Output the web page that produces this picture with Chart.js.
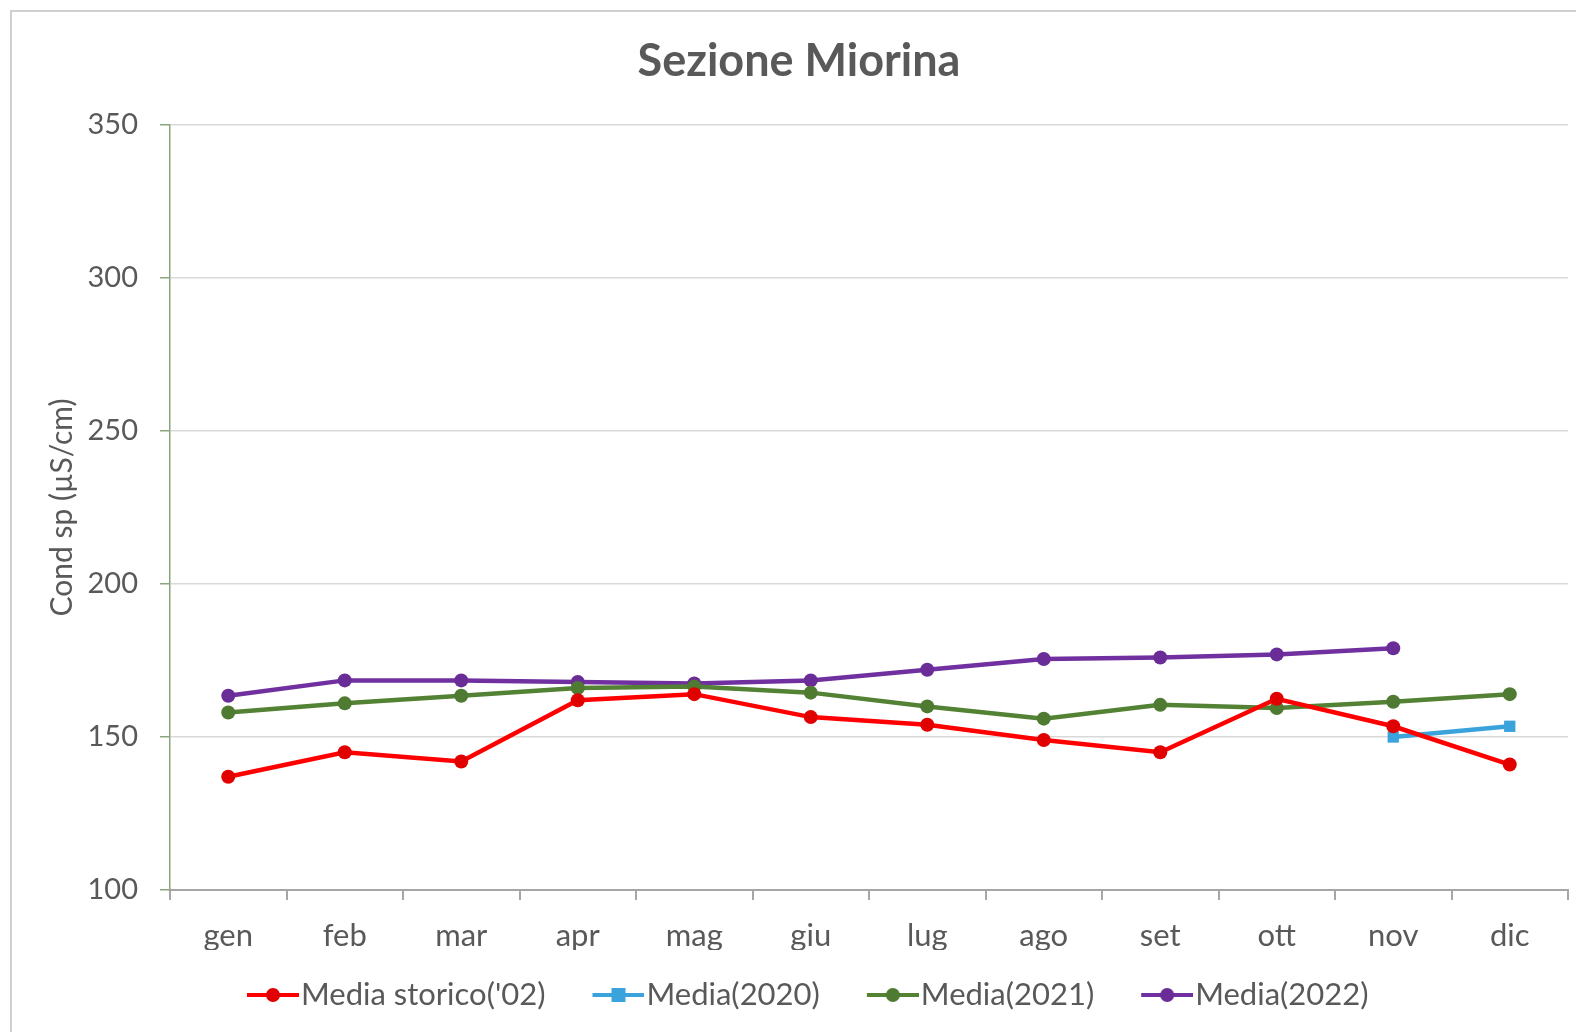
<!DOCTYPE html>
<html>
<head>
<meta charset="utf-8">
<script src="https://cdn.jsdelivr.net/npm/chart.js@4"></script>
<style>
  html, body { margin: 0; padding: 0; background: #ffffff; }
  #wrap { width: 1576px; height: 1032px; position: relative; }
</style>
</head>
<body>
<div id="wrap"><canvas id="c" width="1576" height="1032"></canvas></div>
<script>
const chartTitle = 'Sezione Miorina';
const yAxisTitle = 'Cond sp (µS/cm)';
const categories = ['gen', 'feb', 'mar', 'apr', 'mag', 'giu', 'lug', 'ago', 'set', 'ott', 'nov', 'dic'];
const seriesNames = ["Media storico('02)", 'Media(2020)', 'Media(2021)', 'Media(2022)'];
const mediaStorico = [137, 145, 142, 162, 164, 156.5, 154, 149, 145, 162.5, 153.5, 141];
const media2020 = [null, null, null, null, null, null, null, null, null, null, 150, 153.5];
const media2021 = [158, 161, 163.5, 166, 166.5, 164.5, 160, 156, 160.5, 159.5, 161.5, 164];
const media2022 = [163.5, 168.5, 168.5, 168, 167.5, 168.5, 172, 175.5, 176, 177, 179, null];
const yMin = 100, yMax = 350, yStep = 50;

const colors = ['#ff0000', '#3ba3dc', '#548235', '#7030a0'];
const pointColors = ['#e00000', '#3ba3dc', '#4f7a32', '#6a2d98'];
const markerStyles = ['circle', 'rect', 'circle', 'circle'];
const textColor = '#595959';
const FONT = 'Lato';

function legendImage(i) {
  const W = 83, H = 20;
  const cv = document.createElement('canvas');
  cv.width = W; cv.height = H;
  const g = cv.getContext('2d');
  g.strokeStyle = colors[i];
  g.lineWidth = 4;
  g.beginPath(); g.moveTo(W - 52, H / 2); g.lineTo(W, H / 2); g.stroke();
  g.fillStyle = pointColors[i];
  if (markerStyles[i] === 'rect') {
    g.fillRect(W - 26 - 7, H / 2 - 7, 14, 14);
  } else {
    g.beginPath(); g.arc(W - 26, H / 2, 7, 0, Math.PI * 2); g.fill();
  }
  return cv;
}

const bgPlugin = {
  id: 'bgBorder',
  beforeDraw(chart) {
    const ctx = chart.ctx;
    ctx.save();
    ctx.fillStyle = '#ffffff';
    ctx.fillRect(0, 0, chart.width, chart.height);
    ctx.strokeStyle = '#d0d0d0';
    ctx.lineWidth = 2;
    ctx.strokeRect(11, 11, chart.width + 20, chart.height + 20);
    ctx.restore();
  }
};

function makeDataset(i, data) {
  return {
    label: seriesNames[i],
    data: data,
    borderColor: colors[i],
    backgroundColor: pointColors[i],
    pointBackgroundColor: pointColors[i],
    pointBorderColor: pointColors[i],
    pointBorderWidth: 0,
    pointStyle: markerStyles[i],
    pointRadius: markerStyles[i] === 'rect' ? 8 : 7,
    borderWidth: 4.5,
    tension: 0,
    spanGaps: false,
    fill: false
  };
}

function build() {
  const images = [0, 1, 2, 3].map(legendImage);
  new Chart(document.getElementById('c'), {
    type: 'line',
    data: {
      labels: categories,
      datasets: [
        makeDataset(0, mediaStorico),
        makeDataset(1, media2020),
        makeDataset(2, media2021),
        makeDataset(3, media2022)
      ]
    },
    plugins: [bgPlugin],
    options: {
      responsive: false,
      animation: false,
      devicePixelRatio: 1,
      layout: { padding: { left: 28, right: 6, top: 0, bottom: 11.5 } },
      plugins: {
        title: {
          display: true,
          text: chartTitle,
          color: textColor,
          font: { family: FONT, size: 45, weight: 'bold', lineHeight: 1.2 },
          padding: { top: 34, bottom: 37 }
        },
        legend: {
          position: 'bottom',
          labels: {
            usePointStyle: true,
            pointStyleWidth: 56,
            padding: 29.5,
            color: textColor,
            font: { family: FONT, size: 31 },
            generateLabels(chart) {
              return chart.data.datasets.map((ds, i) => ({
                text: ds.label,
                fillStyle: colors[i],
                strokeStyle: colors[i],
                lineWidth: 0,
                pointStyle: images[i],
                hidden: false,
                datasetIndex: i,
                fontColor: textColor
              }));
            }
          }
        },
        tooltip: { enabled: false }
      },
      scales: {
        x: {
          type: 'category',
          offset: true,
          afterFit(scale) { scale.height = 60; },
          grid: {
            offset: true,
            drawOnChartArea: false,
            drawTicks: true,
            tickLength: 10,
            color: '#a6a6a6',
            lineWidth: 2
          },
          border: { display: true, color: '#a6a6a6', width: 2 },
          ticks: {
            color: textColor,
            font: { family: FONT, size: 31 },
            padding: 17,
            maxRotation: 0,
            autoSkip: false
          }
        },
        y: {
          min: yMin,
          max: yMax,
          afterFit(scale) { scale.width = 142; },
          grid: {
            color: '#d9d9d9',
            lineWidth: 1.5,
            drawTicks: true,
            tickLength: 10,
            tickColor: '#8aa57c',
            tickWidth: 1.5
          },
          border: { display: true, color: '#8aa57c', width: 1.5 },
          ticks: {
            stepSize: yStep,
            color: textColor,
            font: { family: FONT, size: 29 },
            padding: 22
          },
          title: {
            display: true,
            text: yAxisTitle,
            color: textColor,
            font: { family: FONT, size: 30 },
            padding: { top: 16, bottom: 0 }
          }
        }
      }
    }
  });
}

if (document.fonts && document.fonts.load) {
  Promise.all([
    document.fonts.load('28px Lato'),
    document.fonts.load('bold 45px Lato')
  ]).then(build, build);
} else {
  build();
}
</script>
</body>
</html>
